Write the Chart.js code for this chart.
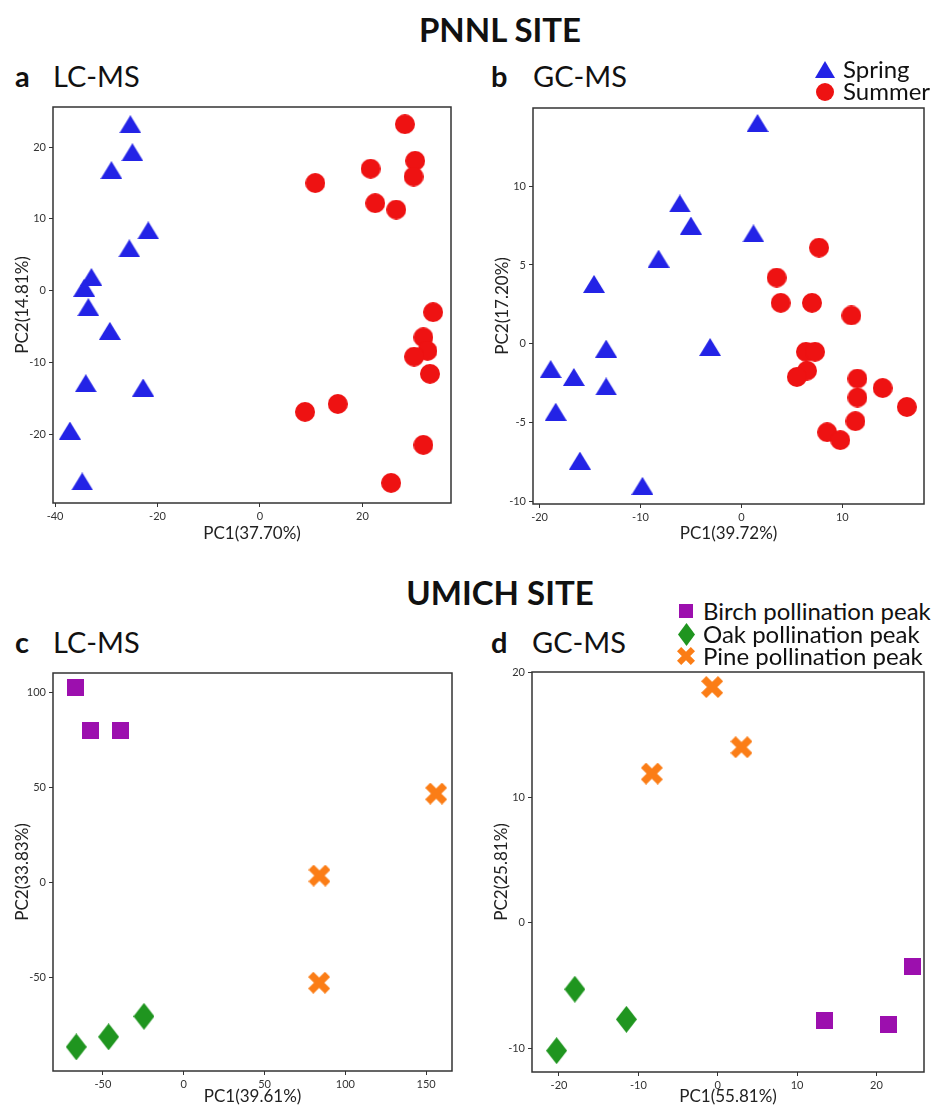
<!DOCTYPE html>
<html>
<head>
<meta charset="utf-8">
<script src="https://cdn.jsdelivr.net/npm/chart.js@4.4.0/dist/chart.umd.min.js"></script>
<style>
  body { margin: 0; background: #fff; width: 935px; height: 1111px; position: relative; overflow: hidden;
         font-family: Lato, "Open Sans", sans-serif; color: #111; }
  canvas.plot { position: absolute; }
  .t { position: absolute; white-space: nowrap; line-height: 1; }
</style>
</head>
<body>
<canvas class="plot" id="chartA" width="462" height="452" style="left:0px;top:96px"></canvas>
<canvas class="plot" id="chartB" width="455" height="451" style="left:480px;top:97px"></canvas>
<canvas class="plot" id="chartC" width="463" height="449" style="left:0px;top:662px"></canvas>
<canvas class="plot" id="chartD" width="456" height="450" style="left:479px;top:661px"></canvas>

<script>
// PNNL, LC-MS  [PC1, PC2]
const pnnlLcSpring = [[-25.3, 23.2], [-24.9, 19.3], [-29.0, 16.8], [-21.8, 8.4], [-25.5, 5.9], [-32.9, 1.9],
  [-34.3, 0.4], [-33.5, -2.3], [-29.3, -5.6], [-34.0, -12.9], [-22.8, -13.5], [-37.1, -19.5], [-34.7, -26.6]]
const pnnlLcSummer = [[28.3, 23.2], [30.3, 18.1], [21.6, 17.0], [30.0, 15.9], [10.8, 15.0], [22.5, 12.2],
  [26.6, 11.3], [33.8, -3.0], [31.9, -6.5], [32.7, -8.4], [30.1, -9.2], [33.2, -11.6], [15.2, -15.8],
  [8.8, -16.9], [31.9, -21.5], [25.6, -26.8]]

// PNNL, GC-MS
const pnnlGcSpring = [[1.6, 14.0], [-6.1, 8.9], [-5.0, 7.5], [1.2, 7.0], [-8.2, 5.4], [-14.6, 3.8], [-13.4, -0.3],
  [-3.1, -0.2], [-18.9, -1.6], [-16.6, -2.1], [-13.4, -2.7], [-18.4, -4.3], [-16.0, -7.4], [-9.8, -9.0]]
const pnnlGcSummer = [[7.7, 6.1], [3.5, 4.2], [3.9, 2.6], [7.0, 2.6], [10.9, 1.8], [6.4, -0.5], [7.3, -0.5],
  [6.5, -1.7], [5.5, -2.1], [11.5, -2.2], [14.0, -2.8], [11.5, -3.4], [16.4, -4.0], [11.3, -4.9], [8.5, -5.6], [9.8, -6.1]]

// UMICH, LC-MS
const umichLcBirch = [[-67.1, 103.1], [-57.8, 80.2], [-38.9, 80.2]]
const umichLcOak = [[-66.5, -86.4], [-46.5, -81.1], [-24.6, -70.3]]
const umichLcPine = [[156.2, 47.0], [84.0, 3.8], [83.8, -52.6]]

// UMICH, GC-MS
const umichGcBirch = [[24.6, -3.5], [13.4, -7.8], [21.5, -8.1]]
const umichGcOak = [[-18.0, -5.3], [-11.5, -7.7], [-20.3, -10.2]]
const umichGcPine = [[-0.7, 18.8], [-8.3, 11.9], [3.0, 14.0]]

const seasonLabels = ['Spring', 'Summer']
const peakLabels = ['Birch pollination peak', 'Oak pollination peak', 'Pine pollination peak']

const BLUE = '#2323e6', RED = '#ee1212', PURPLE = '#9c0fae', GREEN = '#1f951f', ORANGE = '#fb7d16'

// marker images, drawn once and used as pointStyle
function marker(shape, color, w, h) {
  const c = document.createElement('canvas')
  c.width = w; c.height = h
  const g = c.getContext('2d')
  g.fillStyle = color
  g.strokeStyle = color
  g.beginPath()
  if (shape === 'tri') {
    g.moveTo(w / 2, 0); g.lineTo(w, h); g.lineTo(0, h); g.closePath(); g.fill()
  } else if (shape === 'circle') {
    g.arc(w / 2, h / 2, w / 2, 0, Math.PI * 2); g.fill()
  } else if (shape === 'square') {
    g.fillRect(0, 0, w, h)
  } else if (shape === 'diamond') {
    g.moveTo(w / 2, 0); g.lineTo(w, h / 2); g.lineTo(w / 2, h); g.lineTo(0, h / 2); g.closePath(); g.fill()
  } else if (shape === 'x') {
    const t = w * 0.33, d = (w - t * 0.707) / 2
    g.lineWidth = t
    g.moveTo(w / 2 - d, h / 2 - d); g.lineTo(w / 2 + d, h / 2 + d)
    g.moveTo(w / 2 + d, h / 2 - d); g.lineTo(w / 2 - d, h / 2 + d)
    g.stroke()
  }
  return c
}

const frame = {
  id: 'frame',
  afterDraw(chart) {
    const { ctx, chartArea: a } = chart
    ctx.save()
    ctx.strokeStyle = '#333'
    ctx.lineWidth = 1.5
    ctx.strokeRect(a.left, a.top, a.right - a.left, a.bottom - a.top)
    ctx.restore()
  }
}

function ds(points, style) {
  return {
    data: points.map(p => ({ x: p[0], y: p[1] })),
    pointStyle: style,
    pointRadius: 10,
    showLine: false,
    clip: false,
  }
}

function makeChart(id, datasets, o) {
  const axis = (min, max, step) => ({
    type: 'linear', min, max,
    ticks: { stepSize: step, includeBounds: false, color: '#333', font: { family: 'Lato', size: 11 }, padding: 3, maxRotation: 0 },
    grid: { drawOnChartArea: false, tickLength: 4, color: '#333', lineWidth: 1 },
    border: { display: false },
  })
  const x = axis(o.x[0], o.x[1], o.x[2])
  x.title = { display: true, text: o.xTitle, color: '#222', font: { family: 'Lato', size: 17 }, padding: { top: 0, bottom: 4 } }
  x.afterFit = s => { s.height = o.xh }
  const y = axis(o.y[0], o.y[1], o.y[2])
  y.title = { display: true, text: o.yTitle, color: '#222', font: { family: 'Lato', size: 17 }, padding: { top: 12, bottom: 0 } }
  y.afterFit = s => { s.width = 53 }

  return new Chart(document.getElementById(id), {
    type: 'scatter',
    data: { datasets },
    options: {
      responsive: false,
      animation: false,
      layout: { padding: { top: 10, right: o.right, left: 0, bottom: 0 } },
      plugins: { legend: { display: false }, tooltip: { enabled: false } },
      scales: { x, y },
    },
    plugins: [frame],
  })
}

const tri = () => marker('tri', BLUE, 22, 18)
const dot = () => marker('circle', RED, 20, 20)
const sq = () => marker('square', PURPLE, 17, 17)
const dia = () => marker('diamond', GREEN, 21, 27)
const ex = () => marker('x', ORANGE, 22, 22)

makeChart('chartA', [ds(pnnlLcSpring, tri()), ds(pnnlLcSummer, dot())],
  { x: [-40.4, 37.3, 20], y: [-29.6, 25.6, 10], xTitle: 'PC1(37.70%)', yTitle: 'PC2(14.81%)', xh: 45, right: 10 })
makeChart('chartB', [ds(pnnlGcSpring, tri()), ds(pnnlGcSummer, dot())],
  { x: [-20.65, 18.1, 10], y: [-10.15, 14.95, 5], xTitle: 'PC1(39.72%)', yTitle: 'PC2(17.20%)', xh: 44, right: 2 })
makeChart('chartC', [ds(umichLcBirch, sq()), ds(umichLcOak, dia()), ds(umichLcPine, ex())],
  { x: [-80.9, 166, 50], y: [-99.1, 110.5, 50], xTitle: 'PC1(39.61%)', yTitle: 'PC2(33.83%)', xh: 40, right: 10 })
makeChart('chartD', [ds(umichGcBirch, sq()), ds(umichGcOak, dia()), ds(umichGcPine, ex())],
  { x: [-23.4, 26.0, 10], y: [-11.9, 20, 10], xTitle: 'PC1(55.81%)', yTitle: 'PC2(25.81%)', xh: 39, right: 2 })

// text: placed by baseline
function text(str, left, baseline, size, weight, center) {
  const d = document.createElement('div')
  d.className = 't'
  d.textContent = str
  d.style.fontSize = size + 'px'
  d.style.fontWeight = weight
  d.style.top = (baseline - 0.887 * size) + 'px'
  if (center) { d.style.left = (left - 300) + 'px'; d.style.width = '600px'; d.style.textAlign = 'center' }
  else d.style.left = left + 'px'
  document.body.appendChild(d)
}
function legendMark(c, cx, cy) {
  c.style.position = 'absolute'
  c.style.left = (cx - c.width / 2) + 'px'
  c.style.top = (cy - c.height / 2) + 'px'
  document.body.appendChild(c)
}

text('PNNL SITE', 500, 42, 33, 700, true)
text('UMICH SITE', 500, 605, 33, 700, true)
text('a', 15, 87, 29, 700); text('LC-MS', 53, 87, 29, 400)
text('b', 491, 87, 29, 700); text('GC-MS', 533, 87, 29, 400)
text('c', 15, 653, 29, 700); text('LC-MS', 53, 653, 29, 400)
text('d', 491, 653, 29, 700); text('GC-MS', 532, 653, 29, 400)

// legends
legendMark(marker('tri', BLUE, 20, 17), 825, 69)
legendMark(marker('circle', RED, 18, 18), 825, 92)
text(seasonLabels[0], 843, 78, 24, 400)
text(seasonLabels[1], 843, 100, 24, 400)

legendMark(marker('square', PURPLE, 14, 14), 686, 611)
legendMark(marker('diamond', GREEN, 17, 23), 686, 634)
legendMark(marker('x', ORANGE, 18, 18), 686, 656)
text(peakLabels[0], 703, 620, 24, 400)
text(peakLabels[1], 703, 643, 24, 400)
text(peakLabels[2], 703, 665, 24, 400)
</script>
</body>
</html>
